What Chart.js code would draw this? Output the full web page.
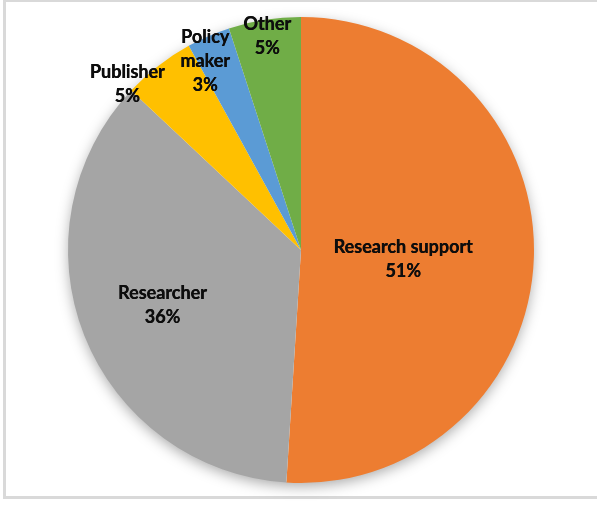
<!DOCTYPE html>
<html>
<head>
<meta charset="utf-8">
<script src="https://cdn.jsdelivr.net/npm/chart.js@4"></script>
<style>
    html, body { margin: 0; padding: 0; background: #fff; overflow: hidden; width: 597px; height: 506px; }
    #frame {
        position: absolute; left: 3px; top: -1px;
        width: 591px; height: 494px;
        border: 3px solid #d9d9d9;
        border-right: none;
    }
    #wrap { position: absolute; left: 0; top: 0; width: 597px; height: 506px; }
</style>
</head>
<body>
<div id="frame"></div>
<div id="wrap"><canvas id="pieChart"></canvas></div>
<script>
// Chart data
const categories = ['Research support', 'Researcher', 'Publisher', 'Policy maker', 'Other'];
const shares = [51, 36, 5, 3, 5];
const sliceColors = ['#ED7D31', '#A5A5A5', '#FFC000', '#5B9BD5', '#70AD47'];

// Label text lines (Excel wraps "Policy maker")
const labelLines = [
    ['Research support'],
    ['Researcher'],
    ['Publisher'],
    ['Policy', 'maker'],
    ['Other']
];

// Label placement: fraction of radius and angle tweak (degrees)
const labelRadius = [0.44, 0.64, 1.03, 0.91, 0.93];
const labelTurn = [3.5, 0, -8.6, -3.5, 0];

const pieShadow = {
    id: 'pieShadow',
    beforeDatasetsDraw(chart) {
        const arc = chart.getDatasetMeta(0).data[0];
        if (!arc) return;
        const ctx = chart.ctx;
        ctx.save();
        ctx.shadowColor = 'rgba(0,0,0,0.35)';
        ctx.shadowBlur = 14;
        ctx.shadowOffsetY = 4;
        ctx.fillStyle = '#ffffff';
        ctx.beginPath();
        ctx.arc(arc.x, arc.y, arc.outerRadius - 1, 0, Math.PI * 2);
        ctx.fill();
        ctx.restore();
    }
};

const sliceLabels = {
    id: 'sliceLabels',
    afterDatasetsDraw(chart) {
        const ctx = chart.ctx;
        const meta = chart.getDatasetMeta(0);
        ctx.save();
        ctx.fillStyle = '#0d0d0d';
        ctx.font = 'bold 18px Lato, "Open Sans", sans-serif';
        ctx.textAlign = 'center';
        ctx.textBaseline = 'middle';
        const lineH = 24;
        meta.data.forEach((arc, i) => {
            const mid = (arc.startAngle + arc.endAngle) / 2 + labelTurn[i] * Math.PI / 180;
            const r = arc.outerRadius * labelRadius[i];
            const cx = arc.x + Math.cos(mid) * r;
            const cy = arc.y + Math.sin(mid) * r;
            const lines = labelLines[i].concat([shares[i] + '%']);
            const top = cy - (lines.length - 1) * lineH / 2;
            lines.forEach((t, k) => {
                // slight double pass for a heavier look like the original
                ctx.fillText(t, cx, top + k * lineH);
                ctx.fillText(t, cx + 0.4, top + k * lineH);
            });
        });
        ctx.restore();
    }
};

document.addEventListener('DOMContentLoaded', function() {
    new Chart(document.getElementById('pieChart'), {
        type: 'pie',
        data: {
            labels: categories,
            datasets: [{
                data: shares,
                backgroundColor: sliceColors,
                borderWidth: 0
            }]
        },
        options: {
            responsive: true,
            maintainAspectRatio: false,
            animation: false,
            layout: { padding: { top: 17, bottom: 23, left: 68, right: 63 } },
            plugins: {
                legend: { display: false },
                tooltip: { enabled: false }
            }
        },
        plugins: [pieShadow, sliceLabels]
    });
});
</script>
</body>
</html>
